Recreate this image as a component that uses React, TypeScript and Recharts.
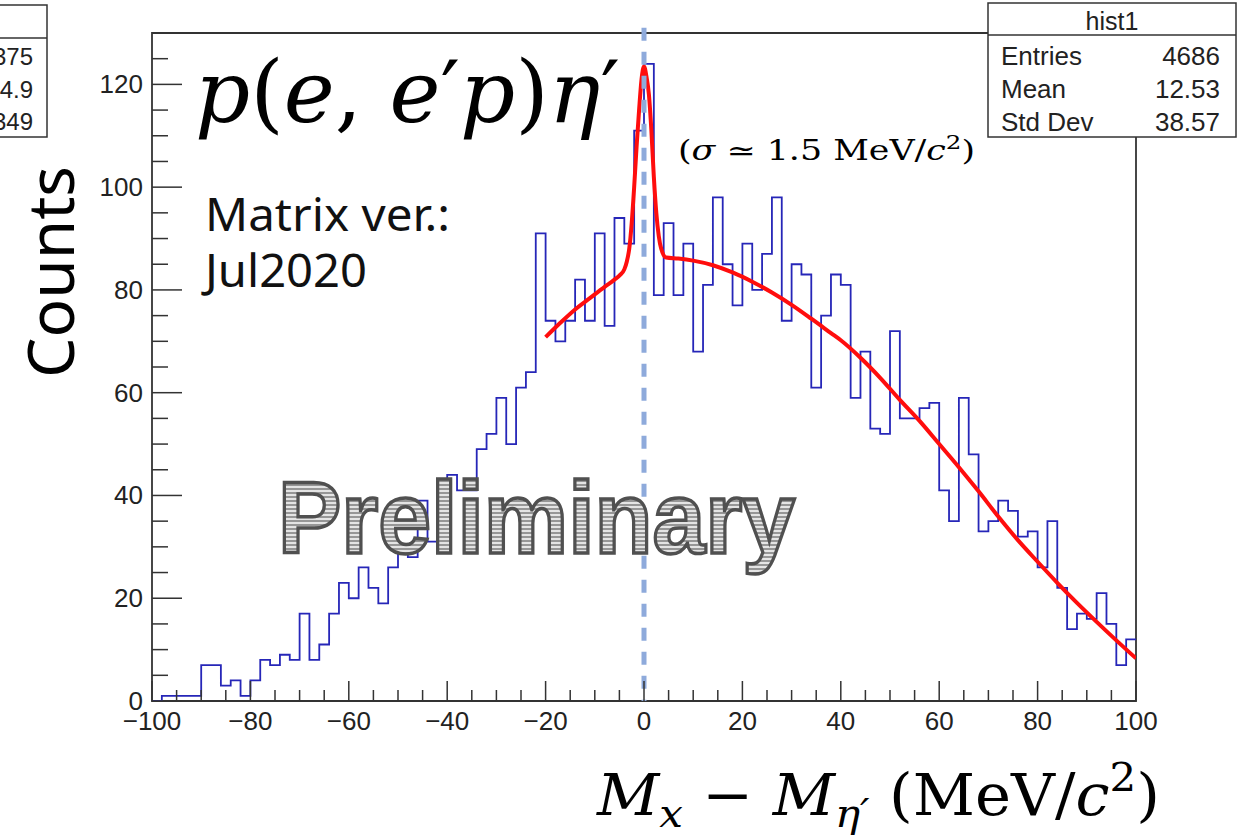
import React from 'react';
import { ComposedChart, Line, XAxis, YAxis, ReferenceLine, ReferenceArea } from 'recharts';

// Histogram bins (lower edges, 2 MeV wide) and counts
const binEdges = [
  -100, -98, -96, -94, -92, -90, -88, -86, -84, -82,
  -80, -78, -76, -74, -72, -70, -68, -66, -64, -62,
  -60, -58, -56, -54, -52, -50, -48, -46, -44, -42,
  -40, -38, -36, -34, -32, -30, -28, -26, -24, -22,
  -20, -18, -16, -14, -12, -10, -8, -6, -4, -2,
  0, 2, 4, 6, 8, 10, 12, 14, 16, 18,
  20, 22, 24, 26, 28, 30, 32, 34, 36, 38,
  40, 42, 44, 46, 48, 50, 52, 54, 56, 58,
  60, 62, 64, 66, 68, 70, 72, 74, 76, 78,
  80, 82, 84, 86, 88, 90, 92, 94, 96, 98,
];
const counts = [
  0, 1, 1, 1, 1, 7, 7, 3, 4, 1,
  4, 8, 7, 9, 8, 17, 8, 11, 17, 23,
  20, 26, 22, 19, 26, 29, 28, 39, 31, 42,
  44, 41, 41, 49, 52, 59, 50, 61, 64, 91,
  74, 70, 74, 82, 74, 91, 73, 94, 89, 111,
  124, 79, 93, 79, 89, 68, 81, 98, 85, 77,
  89, 80, 87, 98, 74, 85, 83, 61, 75, 83,
  81, 59, 68, 53, 52, 72, 55, 55, 57, 58,
  41, 35, 59, 48, 33, 35, 39, 37, 32, 33,
  26, 35, 22, 14, 17, 16, 21, 15, 7, 12,
];
const histUpperEdge = 100;

// Fit curve
const fitX = [-20, -17, -14, -11, -8, -6, -5, -4, -3.5, -3, -2.5, -2, -1.5, -1, -0.5, 0, 0.5, 1, 1.5, 2, 2.5, 3, 3.5, 4.5, 7, 10, 14, 18, 22, 26, 30, 34, 38, 40, 44, 48, 52, 56, 60, 64, 68, 72, 76, 80, 84, 88, 92, 96, 100];
const fitY = [70.8, 73.6, 76.2, 78.4, 80.6, 82, 82.8, 84, 85.5, 88, 93, 100, 108, 115, 121, 123.5, 121.5, 118, 111, 102, 95, 90.5, 88, 86.3, 86.1, 85.7, 84.8, 83.4, 81.6, 79.5, 77.1, 74.4, 71.6, 70.2, 66.8, 62.9, 58.6, 54.5, 50, 45.5, 40.8, 35.9, 31.3, 27.1, 23, 19.1, 15.4, 11.8, 8.3];

const xMajorTicks = [-100, -80, -60, -40, -20, 0, 20, 40, 60, 80, 100];
const xAllTicks = [-100, -95, -90, -85, -80, -75, -70, -65, -60, -55, -50, -45, -40, -35, -30, -25, -20, -15, -10, -5, 0, 5, 10, 15, 20, 25, 30, 35, 40, 45, 50, 55, 60, 65, 70, 75, 80, 85, 90, 95, 100];
const yMajorTicks = [0, 20, 40, 60, 80, 100, 120];
const yAllTicks = [0, 5, 10, 15, 20, 25, 30, 35, 40, 45, 50, 55, 60, 65, 70, 75, 80, 85, 90, 95, 100, 105, 110, 115, 120, 125];

const histData = binEdges
  .map((x, i) => ({ x, y: counts[i] }))
  .concat([{ x: histUpperEdge, y: counts[counts.length - 1] }]);
const fitData = fitX.map((x, i) => ({ x, y: fitY[i] }));

const AXIS = '#333';
const LABEL_FONT = '"Liberation Sans", Arial, sans-serif';

const fmt = (v: number) => (v < 0 ? '\u2212' + Math.abs(v) : String(v));

const XTick = (props: any) => {
  const { x, y, payload } = props;
  const major = xMajorTicks.includes(payload.value);
  return (
    <g>
      <line x1={x} x2={x} y1={y} y2={y - (major ? 20 : 11)} stroke={AXIS} strokeWidth={1.5} />
      {major && (
        <text x={x} y={y + 29} textAnchor="middle" fontSize={26} fontFamily={LABEL_FONT} fill="#222">
          {fmt(payload.value)}
        </text>
      )}
    </g>
  );
};

const YTick = (props: any) => {
  const { x, y, payload } = props;
  const major = yMajorTicks.includes(payload.value);
  return (
    <g>
      <line x1={x} x2={x + (major ? 30 : 16)} y1={y} y2={y} stroke={AXIS} strokeWidth={1.5} />
      {major && (
        <text x={x - 9} y={y + 9} textAnchor="end" fontSize={26} fontFamily={LABEL_FONT} fill="#222">
          {fmt(payload.value)}
        </text>
      )}
    </g>
  );
};

const SERIF = '"DejaVu Serif", "Liberation Serif", serif';
const SANS = '"Noto Sans", "Open Sans", sans-serif';

export default function App() {
  return (
    <div style={{ position: 'absolute', left: 0, top: 0, width: 1253, height: 839, background: '#fff' }}>
      <ComposedChart
        width={1253}
        height={839}
        margin={{ top: 33, right: 117, bottom: 98, left: 92 }}
      >
        <XAxis
          dataKey="x"
          type="number"
          domain={[-100, 100]}
          ticks={xAllTicks}
          interval={0}
          allowDataOverflow
          tickLine={false}
          tickSize={0}
          tickMargin={0}
          tick={<XTick />}
          axisLine={false}
          height={40}
        />
        <YAxis
          type="number"
          domain={[0, 130]}
          ticks={yAllTicks}
          interval={0}
          allowDataOverflow
          tickLine={false}
          tickSize={0}
          tickMargin={0}
          tick={<YTick />}
          axisLine={false}
          width={60}
        />
        <ReferenceArea x1={-100} x2={100} y1={0} y2={130} fill="none" fillOpacity={0} stroke={AXIS} strokeWidth={1.8} ifOverflow="visible" />
        <Line
          data={histData}
          dataKey="y"
          type="stepAfter"
          stroke="#2626b8"
          strokeWidth={1.8}
          dot={false}
          activeDot={false}
          isAnimationActive={false}
        />
        <Line
          data={fitData}
          dataKey="y"
          type="monotone"
          stroke="#ff0d0d"
          strokeWidth={4}
          dot={false}
          activeDot={false}
          isAnimationActive={false}
        />
        <ReferenceLine
          segment={[{ x: 0, y: 131 }, { x: 0, y: 0 }]}
          stroke="#8eaadb"
          strokeWidth={5}
          strokeDasharray="13 11"
          ifOverflow="visible"
        />
      </ComposedChart>

      <svg
        width={1253}
        height={839}
        style={{ position: 'absolute', left: 0, top: 0, pointerEvents: 'none' }}
      >
        <defs>
          <pattern id="stripes" x="0" y="0" width="8" height="4" patternUnits="userSpaceOnUse">
            <rect x="0" y="0" width="8" height="4" fill="#e4e4e4" />
            <rect x="0" y="0" width="8" height="2" fill="#969696" />
          </pattern>
        </defs>

        {/* left partial stats box */}
        <rect x={-10} y={5} width={57} height={132} fill="#fff" stroke="#333" strokeWidth={1.5} />
        <line x1={-10} x2={47} y1={38} y2={38} stroke="#333" strokeWidth={1.5} />
        <g fontFamily={LABEL_FONT} fontSize={24} fill="#222" textAnchor="end">
          <text x={33} y={65}>375</text>
          <text x={33} y={98}>4.9</text>
          <text x={33} y={130}>349</text>
        </g>

        {/* right stats box */}
        <rect x={988} y={3} width={248} height={134} fill="#fff" stroke="#333" strokeWidth={1.5} />
        <line x1={988} x2={1236} y1={35} y2={35} stroke="#333" strokeWidth={1.5} />
        <g fontFamily={LABEL_FONT} fontSize={26} fill="#222">
          <text x={1112} y={30} textAnchor="middle" fontSize={25}>hist1</text>
          <text x={1001} y={65}>Entries</text>
          <text x={1220} y={65} textAnchor="end">4686</text>
          <text x={1001} y={98}>Mean</text>
          <text x={1220} y={98} textAnchor="end">12.53</text>
          <text x={1001} y={131}>Std Dev</text>
          <text x={1220} y={131} textAnchor="end">38.57</text>
        </g>

        {/* reaction title */}
        <text x={195} y={122} fontFamily={SERIF} fontSize={86} fill="#000" textLength={425} lengthAdjust="spacingAndGlyphs">
          <tspan fontStyle="italic">p</tspan>(<tspan fontStyle="italic">e</tspan>, <tspan fontStyle="italic">e</tspan>′<tspan fontStyle="italic">p</tspan>)<tspan fontStyle="italic">η</tspan>′
        </text>

        {/* resolution */}
        <text x={678} y={160} fontFamily={SERIF} fontSize={27} fill="#000" textLength={297} lengthAdjust="spacingAndGlyphs">
          (<tspan fontStyle="italic">σ</tspan> ≃ 1.5 MeV/<tspan fontStyle="italic">c</tspan><tspan fontSize={19} dy={-11}>2</tspan><tspan dy={11}>)</tspan>
        </text>

        {/* matrix version */}
        <text x={205} y={231} fontFamily={SANS} fontSize={46} fill="#111" textLength={245} lengthAdjust="spacingAndGlyphs">Matrix ver.:</text>
        <text x={205} y={287} fontFamily={SANS} fontSize={46} fill="#111" textLength={162} lengthAdjust="spacingAndGlyphs">Jul2020</text>

        {/* y title */}
        <text transform="translate(74,272) rotate(-90)" textAnchor="middle" fontFamily={SANS} fontSize={64} fill="#000">Counts</text>

        {/* x title */}
        <text x={597} y={815} fontFamily={SERIF} fontSize={58} fill="#000" textLength={563} lengthAdjust="spacingAndGlyphs">
          <tspan fontStyle="italic">M</tspan>
          <tspan fontStyle="italic" fontSize={40} dy={12}>x</tspan>
          <tspan dy={-12}> − </tspan>
          <tspan fontStyle="italic">M</tspan>
          <tspan fontStyle="italic" fontSize={40} dy={12}>η′</tspan>
          <tspan dy={-12}> (MeV/</tspan>
          <tspan fontStyle="italic">c</tspan>
          <tspan fontSize={40} dy={-24}>2</tspan>
          <tspan dy={24}>)</tspan>
        </text>

        {/* Preliminary */}
        <text
          x={278}
          y={553}
          fontFamily={LABEL_FONT}
          fontWeight="bold"
          fontSize={102}
          fill="url(#stripes)"
          stroke="#505050"
          strokeWidth={3.5}
          textLength={517}
          lengthAdjust="spacingAndGlyphs"
        >
          Preliminary
        </text>
      </svg>
    </div>
  );
}
